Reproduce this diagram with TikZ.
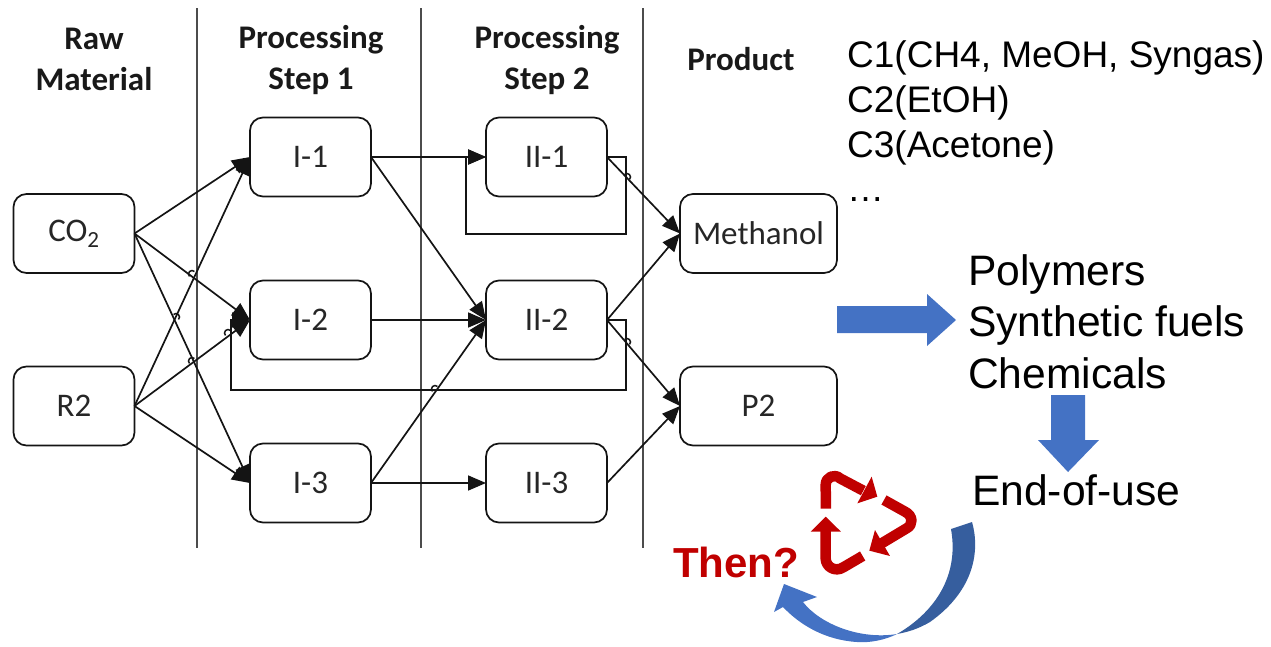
\documentclass[tikz,border=0pt]{standalone}
\usepackage{fontspec}
\setmainfont{Carlito}
\newfontfamily\arialfont{Liberation Sans}
\usetikzlibrary{arrows.meta}
\definecolor{blockblue}{HTML}{4472C4}
\definecolor{darkblock}{HTML}{365E9E}
\definecolor{recyclered}{HTML}{C00000}
\definecolor{inkline}{HTML}{141414}
\tikzset{
  flowbox/.style={draw=inkline,line width=1.7pt,rounded corners=13pt,minimum width=121pt,minimum height=79pt,inner sep=0pt,outer sep=0pt,font=\fontsize{33}{35}\selectfont,text=black!85},
  widebox/.style={flowbox,minimum width=157pt},
  conn/.style={draw=inkline,line width=1.7pt,-{Triangle[length=18pt,width=15pt]}},
  divider/.style={draw=black!70,line width=1.4pt},
  header/.style={font=\fontsize{33}{41}\selectfont\bfseries,align=center,text=black!90,inner sep=0pt},
  bigtext/.style={font=\arialfont\fontsize{42.6}{44}\selectfont,anchor=base west,inner sep=0pt},
  listtext/.style={font=\arialfont\fontsize{37}{39}\selectfont,anchor=base west,inner sep=0pt},
  recyclearrow/.style={draw=recyclered,line width=10.5pt,line join=round},
  recyclehead/.style={fill=recyclered,draw=none},
}
\newcommand{\jumpmark}[3]{\draw[draw=inkline,line width=1.5pt] (#1,#2) ++({#3-90}:3.5) arc[start angle={#3-90},delta angle=180,radius=3.5];}
\begin{document}
\begin{tikzpicture}[x=1pt,y=-1pt]
\useasboundingbox (0,0) rectangle (1271,646);
% dividers
\foreach \dx in {197,421,643}{\draw[divider] (\dx,8) -- (\dx,548);}
% boxes
\node[flowbox] (co2) at (74,233.5) {\raisebox{-1pt}{CO\textsubscript{2}}};
\node[flowbox] (r2) at (74,406) {R2};
\node[flowbox] (i1) at (310.5,157) {I-1};
\node[flowbox] (i2) at (310.5,320) {I-2};
\node[flowbox] (i3) at (310.5,483) {I-3};
\node[flowbox] (ii1) at (546.5,157) {II-1};
\node[flowbox] (ii2) at (546.5,320) {II-2};
\node[flowbox] (ii3) at (546.5,483) {II-3};
\node[widebox] (meth) at (758.5,233.5) {Methanol};
\node[widebox] (p2) at (758.5,406) {P2};
% headers
\node[header] (h1) at (94,59) {Raw\\Material};
\node[header] (h2) at (311,60) {Processing\\Step 1};
\node[header] (h3) at (547,60) {Processing\\Step 2};
\node[header] (h4) at (741,59) {Product};
% connectors
\foreach \a/\b in {co2/i1,co2/i2,co2/i3,r2/i1,r2/i2,r2/i3,i1/ii1,i1/ii2,i2/ii2,i3/ii2,i3/ii3,ii1/meth,ii2/meth,ii2/p2,ii3/p2}{
  \draw[conn] (\a.east) -- (\b.west);
}
\draw[conn] (ii1.east) -- ++(19,0) -- ++(0,77) -- ++(-160,0) -- ++(0,-77) -- (ii1.west);
\draw[conn] (ii2.east) -- ++(19,0) -- ++(0,70) -- ++(-395,0) -- ++(0,-70) -- (i2.west);
% line jumps
\jumpmark{192}{274}{-135}\jumpmark{176}{317}{-45}\jumpmark{192}{361}{-135}\jumpmark{228}{333}{-135}\jumpmark{627}{177}{-45}\jumpmark{627}{342}{-45}\jumpmark{435}{389}{-135}
% right-hand text
\node[listtext] (c1) at (847,67) {C1(CH4, MeOH, Syngas)};
\node[listtext] (c2) at (847,112) {C2(EtOH)};
\node[listtext] (c3) at (847,157) {C3(Acetone)};
\node[listtext] (c4) at (847,201) {…};
\node[bigtext] (poly) at (968,285) {Polymers};
\node[bigtext] (syn) at (968,336) {Synthetic fuels};
\node[bigtext] (chem) at (968,388) {Chemicals};
\node[bigtext] (eou) at (972,505) {End-of-use};
\node[font=\arialfont\bfseries\fontsize{42}{44}\selectfont,text=recyclered,anchor=base west,inner sep=0pt] (then) at (673,577) {Then?};
% block arrows
\fill[blockblue] (837,306) -- (927,306) -- (927,294) -- (956,320) -- (927,346) -- (927,333) -- (837,333) -- cycle;
\fill[blockblue] (1051,395) -- (1085,395) -- (1085,440) -- (1099,440) -- (1068,472) -- (1038,440) -- (1051,440) -- cycle;
% curved arrow
\fill[blockblue] (774,612) -- (784,584) -- (817,597) -- (803,602)
  .. controls (820,624) and (860,640) .. (897,634)
  .. controls (885,640) and (870,643) .. (857,642)
  .. controls (825,640) and (800,625) .. (783,607) -- cycle;
\fill[darkblock] (972,522) .. controls (980,550) and (975,590) .. (930,622)
  .. controls (918,629) and (908,632) .. (897,634)
  .. controls (930,615) and (960,580) .. (951,529) -- cycle;
% recycle symbol
\begin{scope}[shift={(660,450)},x=0.3333pt,y=-0.3333pt]
\draw[recyclearrow] (498,176) -- (497,105) .. controls (497,80) and (525,70) .. (540,85) -- (610,122);
\fill[recyclehead] (652,140) -- (635,80) -- (592,160) -- cycle;
\draw[recyclearrow] (672,150) -- (735,185) .. controls (760,197) and (760,225) .. (740,235) -- (665,280);
\fill[recyclehead] (628,302) -- (645,240) -- (690,318) -- cycle;
\draw[recyclearrow] (608,318) -- (550,352) .. controls (525,368) and (497,350) .. (497,325) -- (497,240);
\fill[recyclehead] (497,200) -- (452,245) -- (543,245) -- cycle;
\end{scope}
\end{tikzpicture}
\end{document}
